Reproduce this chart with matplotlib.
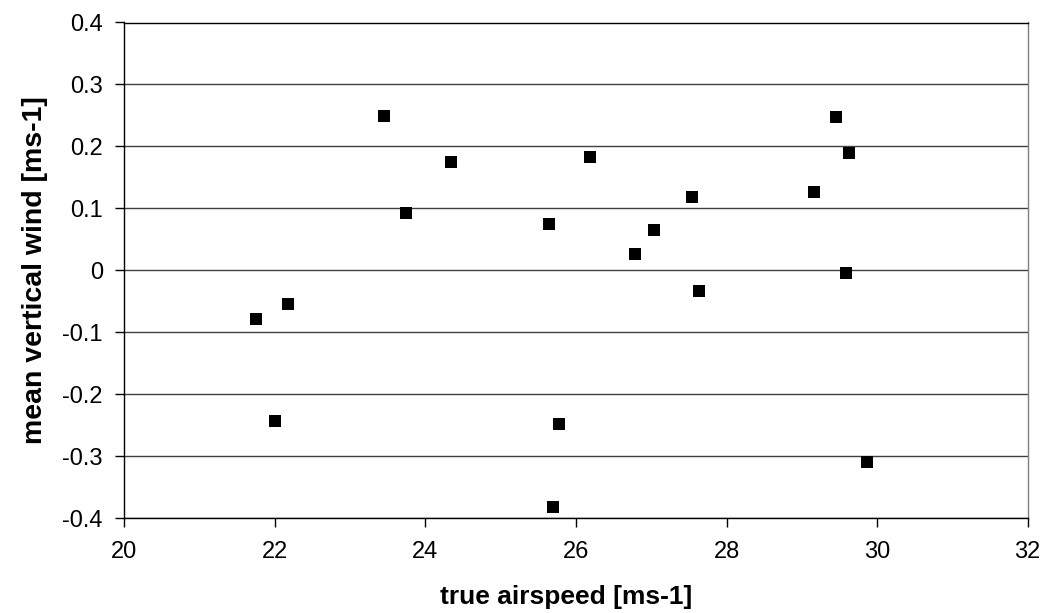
import matplotlib
matplotlib.use("Agg")
import matplotlib.pyplot as plt

plt.rcParams['font.family'] = ['Liberation Sans', 'DejaVu Sans']

airspeed = [21.75, 22.18, 22.0, 23.45, 23.74, 24.34, 25.64, 25.69, 25.77, 26.19,
            26.78, 27.04, 27.54, 27.63, 29.16, 29.45, 29.63, 29.59, 29.87]
vertical_wind = [-0.078, -0.054, -0.243, 0.249, 0.092, 0.175, 0.075, -0.382, -0.248, 0.183,
                 0.026, 0.065, 0.118, -0.033, 0.126, 0.248, 0.19, -0.005, -0.309]
x_ticks = [20, 22, 24, 26, 28, 30, 32]
y_ticks = [-0.4, -0.3, -0.2, -0.1, 0, 0.1, 0.2, 0.3, 0.4]
y_labels = ['-0.4', '-0.3', '-0.2', '-0.1', '0', '0.1', '0.2', '0.3', '0.4']

fig = plt.figure(figsize=(10.57, 6.13), dpi=100)
ax = fig.add_axes([124.3/1057, 1 - 518.3/613, (1027.7-124.3)/1057, (518.3-22.5)/613])

ax.set_xlim(20, 32)
ax.set_ylim(-0.4, 0.4)
ax.set_xticks(x_ticks)
ax.set_yticks(y_ticks)
ax.set_yticklabels(y_labels)
ax.yaxis.grid(True, color='#404040', linewidth=1.0)
ax.set_axisbelow(True)

ax.plot(airspeed, vertical_wind, linestyle='none', marker='s', markersize=8.6,
        color='black', markeredgewidth=0, zorder=3)

for s in ['left', 'bottom', 'top']:
    ax.spines[s].set_color('black')
    ax.spines[s].set_linewidth(1.0)
ax.spines['right'].set_color('#808080')
ax.spines['right'].set_linewidth(1.0)

ax.tick_params(axis='both', direction='out', length=6.5, width=1.0, colors='black', labelsize=17)
ax.tick_params(axis='x', pad=10)
ax.tick_params(axis='y', pad=9)

ax.set_xlabel('true airspeed [ms-1]', fontsize=19, fontweight='bold')
ax.set_ylabel('mean vertical wind [ms-1]', fontsize=20.5, fontweight='bold')
ax.xaxis.set_label_coords(0.489, -0.1345)
ax.yaxis.set_label_coords(-0.084, 0.5)

fig.savefig('out.png', dpi=100)
